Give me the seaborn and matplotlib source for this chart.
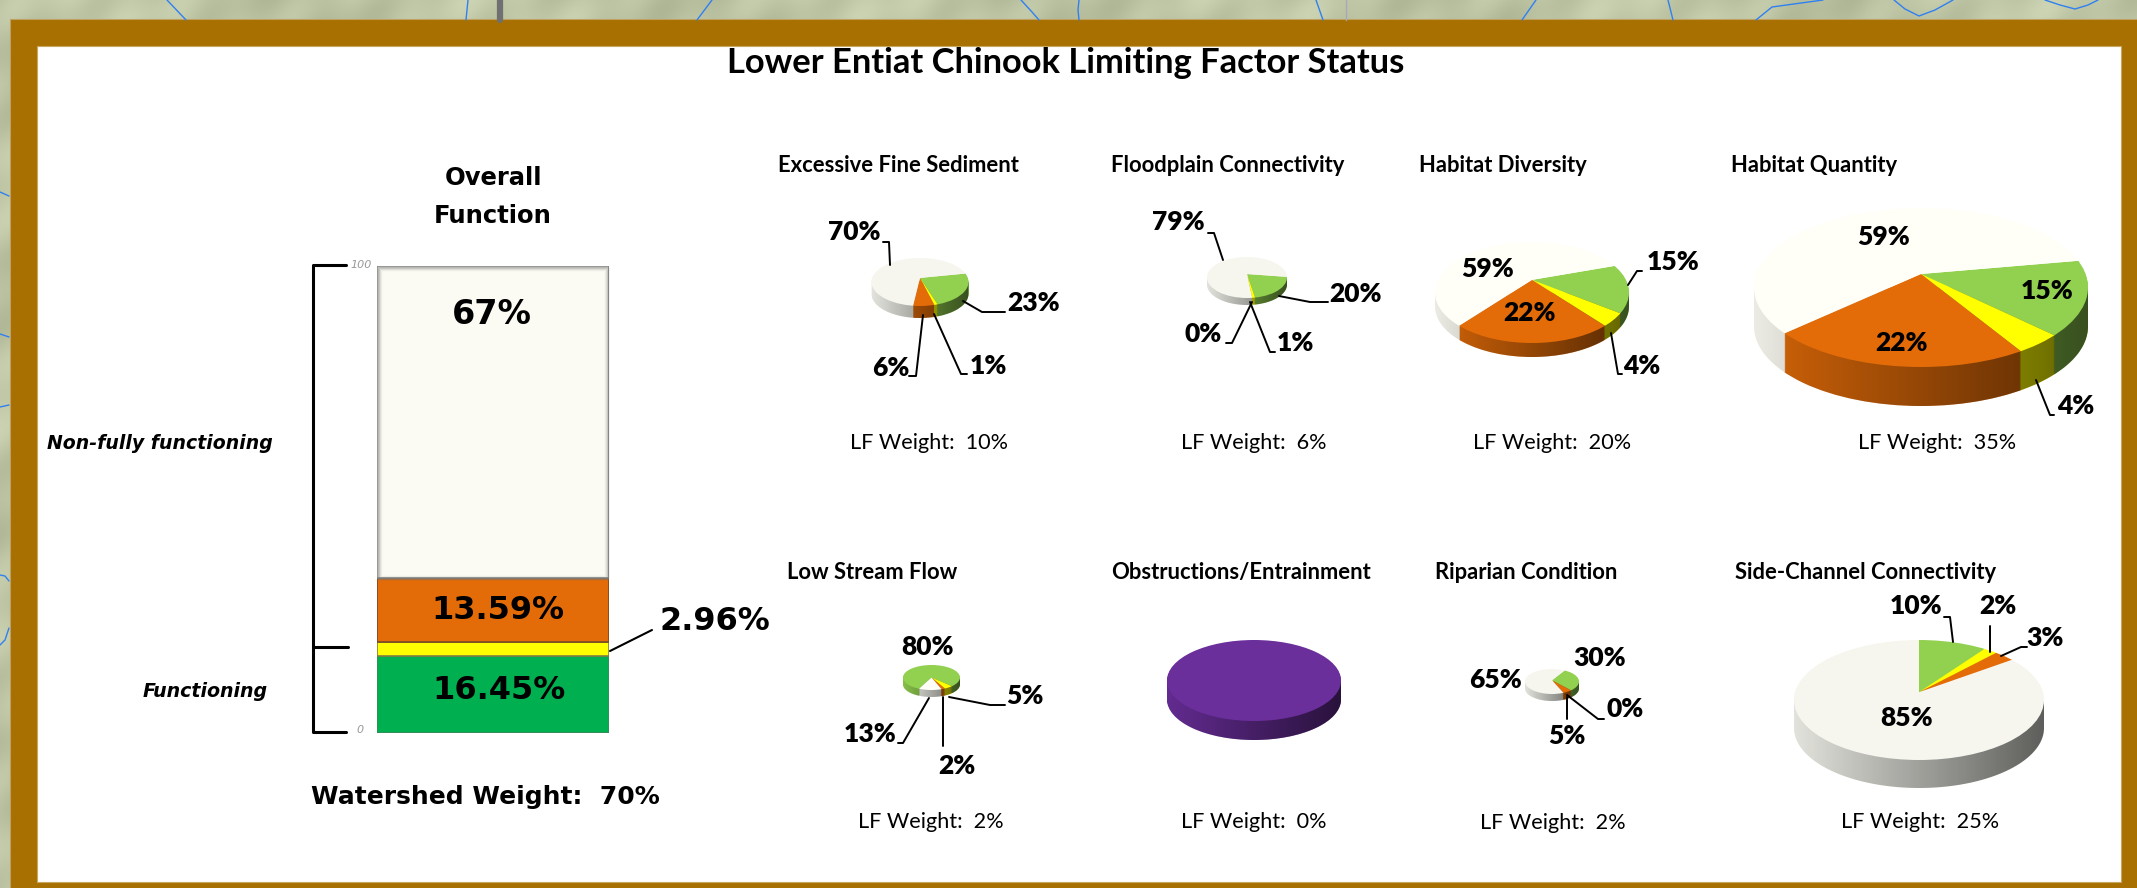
"""Lower Entiat Chinook limiting factor status"""
import matplotlib
matplotlib.use("Agg")
import matplotlib.pyplot as plt
import numpy as np
import seaborn as sns
from matplotlib.patches import Circle, PathPatch, Rectangle
from matplotlib.path import Path

# 데이터
overall_parts = ["Functioning", "At risk", "Unacceptable", "Non-functioning"]
overall_values = [16.45, 2.96, 13.59, 67.0]
overall_labels = ["16.45%", "2.96%", "13.59%", "67%"]

pie_names = [
    "Excessive Fine Sediment", "Floodplain Connectivity", "Habitat Diversity", "Habitat Quantity",
    "Low Stream Flow", "Obstructions/Entrainment", "Riparian Condition", "Side-Channel Connectivity",
]
lf_weights = [10, 6, 20, 35, 2, 0, 2, 25]
# 순서: 초록, 노랑, 주황, 흰색
fine_sediment = [23, 1, 6, 70]
floodplain = [20, 1, 0, 79]
habitat_diversity = [15, 4, 22, 59]
habitat_quantity = [15, 4, 22, 59]
low_flow = [80, 5, 2, 13]
obstructions = [100]
riparian = [30, 0, 5, 65]
side_channel = [10, 2, 3, 85]
pie_values = [fine_sediment, floodplain, habitat_diversity, habitat_quantity,
              low_flow, obstructions, riparian, side_channel]

W, H = 2137, 888
GREEN, YELLOW, ORANGE = "#92d050", "#ffff00", "#e36c09"
IVORY, PALE = "#f6f6ef", "#fffff8"
GOLD = "#a87000"

# 파이 위치 (픽셀): cx, rx, 위, 윗면 아래, 옆면 아래, 중심 오프셋, 시작각, 흰색
pie_boxes = [
    (920, 48.5, 258, 306, 318, 0.17, 11, IVORY),
    (1247, 40, 257, 298, 305, 0.17, -8, IVORY),
    (1532, 97, 242, 343, 357, 0.25, 18, PALE),
    (1921, 167, 208, 367, 406, 0.17, 10, PALE),
    (931.5, 28.5, 665, 690, 697, 0.0, -116, PALE),
    (1254, 87, 640, 721, 740, 0.0, 90, IVORY),
    (1552, 27, 669, 694, 701, 0.1, 59, IVORY),
    (1919, 125, 640, 760, 788, 0.13, 90, IVORY),
]
title_pos = [(778, 165), (1111, 165), (1419, 165), (1731, 165),
             (787, 572), (1111, 572), (1435, 572), (1735, 572)]
weight_pos = [(929, 443), (1254, 443), (1552, 443), (1937, 443),
              (931, 822), (1254, 822), (1553, 823), (1920, 822)]
# 라벨 위치 (픽셀), 값 순서와 동일
label_pos = [
    [(1034, 303), (988, 366), (891, 368), (854, 232)],
    [(1355, 294), (1295, 343), (1203, 334), (1178, 222)],
    [(1673, 262), (1642, 366), (1530, 313), (1488, 269)],
    [(2047, 291), (2076, 406), (1901, 343), (1884, 237)],
    [(927, 647), (1025, 696), (957, 766), (870, 734)],
    [],
    [(1600, 658), (1625, 709), (1567, 736), (1495, 680)],
    [(1916, 606), (1998, 606), (2045, 638), (1907, 718)],
]
leaders = [
    [(883, 242), (889, 242), (890, 265)], [(1005, 312), (982, 312), (963, 301)],
    [(909, 376), (916, 376), (923, 315)], [(967, 374), (961, 374), (934, 314)],
    [(1208, 233), (1214, 233), (1223, 260)], [(1328, 302), (1310, 302), (1279, 296)],
    [(1226, 343), (1232, 343), (1252, 302)], [(1275, 352), (1270, 352), (1250, 302)],
    [(1642, 271), (1637, 271), (1628, 285)], [(1622, 374), (1618, 374), (1611, 333)],
    [(2054, 415), (2050, 415), (2036, 380)],
    [(1005, 705), (990, 705), (949, 697)], [(898, 743), (903, 743), (929, 698)],
    [(943, 746), (943, 697)],
    [(1604, 719), (1598, 719), (1567, 695)], [(1567, 719), (1567, 697)],
    [(1944, 617), (1950, 617), (1953, 642)], [(1990, 626), (1990, 652)],
    [(2027, 647), (2021, 647), (2001, 656)],
]
# 지도 배경의 파란 선
stream_lines = [
    ((167, 186), (0, 20)), ((468, 466), (0, 20)), ((712, 697), (0, 20)),
    ((1021, 1032, 1039), (0, 12, 20)), ((1079, 1078, 1079), (0, 10, 20)), ((1316, 1323), (0, 20)),
    ((1536, 1522), (0, 20)), ((1668, 1673), (0, 20)), ((1823, 1772, 1756), (0, 7, 20)),
    ((1894, 1905, 1919, 1935, 1953), (0, 9, 16, 10, 0)), ((2045, 2060, 2075, 2088, 2098), (0, 5, 9, 5, 0)),
    ((0, 9), (192, 196)), ((0, 9), (334, 337)), ((0, 9), (407, 405)),
    ((0, 5, 9), (575, 576, 581)), ((0, 5, 9), (645, 640, 628)),
]

sns.set_theme(style="white")
plt.rcParams["font.family"] = ["Lato", "DejaVu Sans"]

fig = plt.figure(figsize=(W / 100, H / 100), dpi=100)


def px_axes(x0, y0, x1, y1, zorder=1):
    """픽셀 좌표(위가 0)로 축 생성"""
    ax = fig.add_axes([x0 / W, 1 - y1 / H, (x1 - x0) / W, (y1 - y0) / H], zorder=zorder)
    ax.patch.set_alpha(0)
    return ax


def draw_pie(values, box, colors):
    cx, rx, top, surf, bottom, off, start, _ = box
    ry = (surf - top) / 2
    depth = (bottom - surf) / ry
    pad = 0.03
    ax = px_axes(cx - rx * (1 + pad), top - ry * pad, cx + rx * (1 + pad), bottom + ry * pad, zorder=2)

    def layer(shift, cols, zorder):
        wedges, _ = ax.pie(values, colors=cols, startangle=start, counterclock=False,
                           center=(0, off - shift), radius=1.6)
        clip = Circle((0, -shift), 1, transform=ax.transData)
        for w in wedges:
            w.set_zorder(zorder)
            w.set_clip_on(True)
            w.set_clip_path(clip)
            w.set_edgecolor("none")

    # 옆면
    n = int(bottom - surf)
    for i in range(n, 0, -1):
        layer(depth * i / n, colors, 1)
    t = np.linspace(0, np.pi, 80)
    outline = np.r_[[[-1, 0], [1, 0]], np.c_[np.cos(t), -np.sin(t) - depth]]
    clip = PathPatch(Path(outline), transform=ax.transData, fc="none", ec="none")
    shade = np.zeros((1, 256, 4))
    shade[..., 3] = np.linspace(0.08, 0.62, 256)
    img = ax.imshow(shade, extent=(-1, 1, -1 - depth, 1), aspect="auto", zorder=2, interpolation="bilinear")
    img.set_clip_path(clip)
    # 윗면
    layer(0, colors, 3)
    ax.set_aspect("auto")
    ax.set_xlim(-1 - pad, 1 + pad)
    ax.set_ylim(-1 - depth - pad, 1 + pad)
    ax.axis("off")


# 배경 (지도 질감 비슷하게)
bg = px_axes(0, 0, W, H, zorder=0)
yy, xx = np.mgrid[0:H:2, 0:W:2]
tex = (np.sin(xx / 23 + yy / 11) + np.sin(xx / 61 - yy / 37) + 0.7 * np.sin(xx / 9 + yy / 29)) / 2.7
base = np.array([190, 197, 165]) / 255
bg.imshow(np.clip(base[None, None, :] + tex[..., None] * 0.06, 0, 1), extent=(0, W, H, 0), aspect="auto")
bg.set_xlim(0, W)
bg.set_ylim(H, 0)
bg.axis("off")
bg.add_patch(Rectangle((9.5, 19.5), W - 9, H - 19, fc=GOLD, ec="#c0a060", lw=0.8))
bg.add_patch(Rectangle((36.5, 46), 2120.5 - 36.5, 882 - 46, fc="white", ec="#c8a860", lw=0.8))
bg.plot([500, 500], [0, 20], color="#707070", lw=4.5)
bg.plot([1346, 1346], [0, 20], color="#a8a8b8", lw=1)
for xs, ys in stream_lines:
    bg.plot(xs, ys, color="#2f80f0", lw=1)

# 전체 막대
bar_ax = px_axes(376.5, 265.5, 609, 732.5, zorder=1)
bar_colors = ["#00b050", "#ffff00", "#e36c09", "#fbfbf3"]
edge_colors = ["#3c8a5c", "#808040", "#7a4a20", "#8a8a86"]
bottom = 0
for part, val, col, edge in zip(overall_parts, overall_values, bar_colors, edge_colors):
    sns.barplot(x=["Overall"], y=[val], bottom=bottom, color=col, width=1, saturation=1,
                edgecolor=edge, linewidth=1.2, ax=bar_ax)
    bottom += val
bar_ax.set_xlim(-0.5, 0.5)
bar_ax.set_ylim(0, 100)
bar_ax.axis("off")

# 파이
for values, box in zip(pie_values, pie_boxes):
    if len(values) == 1:
        draw_pie(values, box, ["#6b2f9c"])
    else:
        draw_pie(values, box, [GREEN, YELLOW, ORANGE, box[7]])

# 텍스트
fg = px_axes(0, 0, W, H, zorder=5)
fg.set_xlim(0, W)
fg.set_ylim(H, 0)
fg.axis("off")
VERA = ["DejaVu Sans"]


def txt(x, y, s, size, weight="bold", ha="center", family=None, **kw):
    fg.text(x, y, s, fontsize=size, fontweight=weight, ha=ha, va="center", color=kw.pop("color", "black"),
            family=family or ["Lato"], **kw)


# 막대 안쪽 그림자
for i, a in enumerate([0.45, 0.28, 0.15, 0.07]):
    fg.add_patch(Rectangle((377.5 + i, 266.5 + i), 230.5 - 2 * i, 312 - 2 * i, fc="none", ec="#707070", lw=1, alpha=a))

txt(1066, 63, "Lower Entiat Chinook Limiting Factor Status", 24.8)
txt(493, 178, "Overall", 17.5, family=VERA)
txt(493, 216, "Function", 17.5, family=VERA)
txt(492, 314, overall_labels[3], 24, family=VERA)
txt(498, 610, overall_labels[2], 23, family=VERA)
txt(499, 690, overall_labels[0], 23, family=VERA)
txt(715, 621, overall_labels[1], 23, family=VERA)
txt(485, 797, "Watershed Weight:  70%", 18, family=VERA)
txt(47, 443, "Non-fully functioning", 13.6, ha="left", family=VERA, style="italic")
txt(143, 691, "Functioning", 13.7, ha="left", family=VERA, style="italic")
txt(372, 265, "100", 8, weight="normal", ha="right", family=VERA, style="italic", color="#999999")
txt(360, 730, "0", 8, weight="normal", family=VERA, style="italic", color="#999999")
fg.plot([346, 313, 313, 346], [265, 265, 732, 732], color="black", lw=2.2)
fg.plot([313, 348], [647, 647], color="black", lw=2.2)
fg.plot([610, 652], [651, 630], color="black", lw=1.5)

for name, pos in zip(pie_names, title_pos):
    txt(pos[0], pos[1], name, 15.8, ha="left")
for w, pos in zip(lf_weights, weight_pos):
    txt(pos[0], pos[1], f"LF Weight:  {w}%", 15.6, weight="normal")
for values, positions in zip(pie_values, label_pos):
    for v, pos in zip(values, positions):
        txt(pos[0], pos[1], f"{v}%", 19, weight="heavy")
for pts in leaders:
    fg.plot([p[0] for p in pts], [p[1] for p in pts], color="black", lw=1.4)

fig.savefig("out.png", dpi=100)
plt.close()
